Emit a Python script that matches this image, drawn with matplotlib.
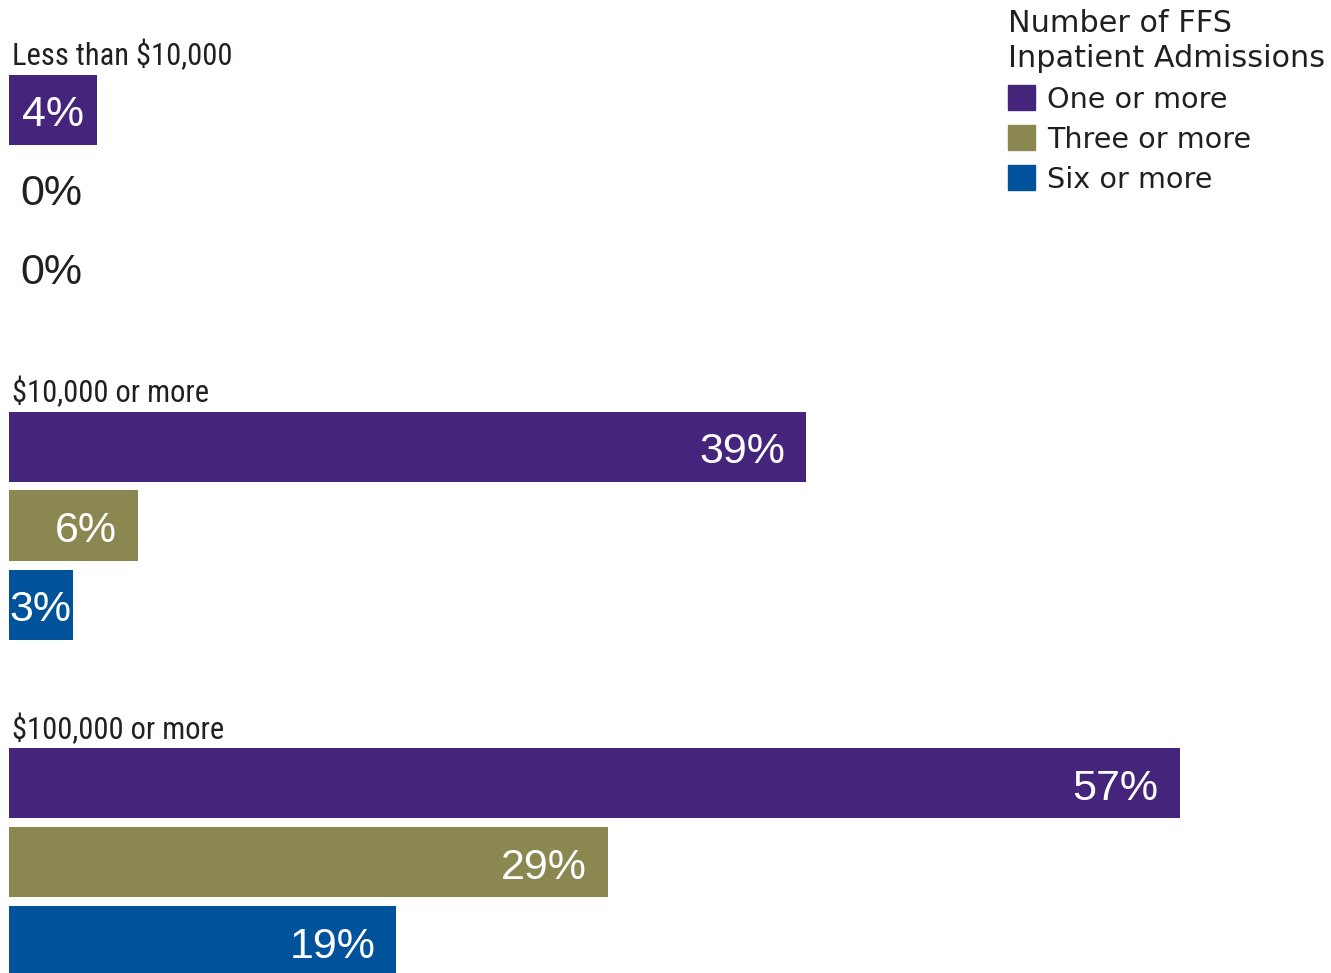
import matplotlib
matplotlib.use("Agg")
import matplotlib.pyplot as plt
from matplotlib.patches import Rectangle
from matplotlib import font_manager

groups = ["Less than $10,000", "$10,000 or more", "$100,000 or more"]
series = ["One or more", "Three or more", "Six or more"]
# bar lengths (labels show them rounded)
one_or_more = [4.3, 38.9, 57.1]
three_or_more = [0, 6.3, 29.2]
six_or_more = [0, 3.1, 18.9]
colors = ["#45257c", "#8a8750", "#00529b"]

values = [one_or_more, three_or_more, six_or_more]

W, H = 1331, 973
fig = plt.figure(figsize=(W / 100, H / 100), dpi=100)
ax = fig.add_axes([0, 0, 1, 1])

# pixel layout: x0 = 9 px, 20.5 px per percent; bar slot 79 px, group pitch 337 px
px_x = 20.5
slot = 79.0
gstep = 337.0 / slot
ax.set_xlim(-9 / px_x, (W - 9) / px_x)
ax.set_ylim((H - 109.5) / slot, -109.5 / slot)
ax.axis("off")

installed = {f.name for f in font_manager.fontManager.ttflist}
cat_font = dict(family="Liberation Sans", size=18.5)
for cand, sz in [("Roboto Condensed", 22), ("Liberation Sans Narrow", 22.5),
                 ("Open Sans Condensed", 22.5)]:
    if cand in installed:
        cat_font = dict(family=cand, size=sz)
        break

val_font = dict(family="Liberation Sans", size=31)

for g, name in enumerate(groups):
    base = g * gstep
    ax.text(0.15, base - 44.5 / slot, name, ha="left", va="baseline",
            color="#231f20", **cat_font)
    for i in range(3):
        v = values[i][g]
        y = base + i
        lab = f"{round(v)}%"
        if v > 0:
            ax.barh(y, v, height=70 / slot, left=0, color=colors[i])
            pad = min(21, (v * px_x - 61) / 2) / px_x
            ax.text(v - pad, y + 16.5 / slot, lab, ha="right", va="baseline",
                    color="white", **val_font)
        else:
            ax.text(0.54, y + 16.5 / slot, lab, ha="left", va="baseline",
                    color="#231f20", **val_font)

# legend
fig.text(1008 / W, 1 - 32 / H, "Number of FFS", ha="left", va="baseline",
         color="#231f20", family="DejaVu Sans", size=21.8)
fig.text(1008 / W, 1 - 67 / H, "Inpatient Admissions", ha="left", va="baseline",
         color="#231f20", family="DejaVu Sans", size=21.8)
for i, s in enumerate(series):
    top = 85 + 40 * i
    fig.patches.append(Rectangle((1008 / W, 1 - (top + 25) / H), 27 / W, 25 / H,
                                 transform=fig.transFigure, color=colors[i]))
    fig.text(1047 / W, 1 - (top + 23) / H, s, ha="left", va="baseline",
             color="#231f20", family="DejaVu Sans", size=20.6)

fig.savefig("out.png", dpi=100)
